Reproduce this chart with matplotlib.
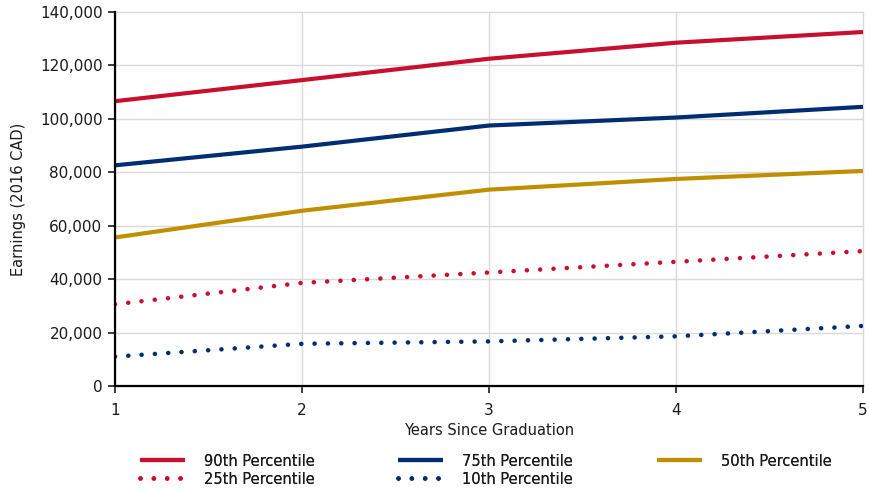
import matplotlib
matplotlib.use("Agg")
import matplotlib.pyplot as plt
from matplotlib.ticker import FuncFormatter

years = [1, 2, 3, 4, 5]
p90 = [106600, 114500, 122500, 128500, 132500]
p75 = [82600, 89600, 97500, 100500, 104500]
p50 = [55600, 65600, 73500, 77500, 80500]
p25 = [30600, 38600, 42500, 46500, 50500]
p10 = [11000, 15800, 16700, 18600, 22500]
labels = ["90th Percentile", "75th Percentile", "50th Percentile",
          "25th Percentile", "10th Percentile"]

RED = "#C8102E"
NAVY = "#002D72"
GOLD = "#BF8F00"

plt.rcParams['font.family'] = ['DejaVu Sans']
FS = 10.5

fig = plt.figure(figsize=(8.69, 4.91), dpi=100)
ax = fig.add_axes([0.1323, 0.2138, 0.9931 - 0.1323, 0.9756 - 0.2138])

lw = 3.0
dots = (0, (0.01, 2.9))
h90, = ax.plot(years, p90, color=RED, lw=lw, label=labels[0], solid_capstyle='butt')
h75, = ax.plot(years, p75, color=NAVY, lw=lw, label=labels[1], solid_capstyle='butt')
h50, = ax.plot(years, p50, color=GOLD, lw=lw, label=labels[2], solid_capstyle='butt')
h25, = ax.plot(years, p25, color=RED, lw=3.3, linestyle=dots, dash_capstyle='round', label=labels[3])
h10, = ax.plot(years, p10, color=NAVY, lw=3.3, linestyle=dots, dash_capstyle='round', label=labels[4])

ax.set_xlim(1, 5)
ax.set_ylim(0, 140000)
ax.set_xticks(years)
ax.set_yticks(range(0, 140001, 20000))
ax.yaxis.set_major_formatter(FuncFormatter(lambda v, p: f"{int(v):,}"))
ax.grid(True, color="#D9D9D9", lw=1.0)
ax.set_axisbelow(True)
for gl in ax.get_xgridlines() + ax.get_ygridlines():
    gl.set_clip_on(False)
for s in ["top", "right"]:
    ax.spines[s].set_visible(False)
for s in ["left", "bottom"]:
    ax.spines[s].set_linewidth(1.6)
    ax.spines[s].set_color("black")
ax.tick_params(axis='both', length=5, width=1.2, labelsize=FS + 0.5, colors="black", pad=4)
ax.tick_params(axis='x', pad=7)
ax.tick_params(colors="#1a1a1a", which='both')
ax.set_xlabel("Years Since Graduation", fontsize=FS, labelpad=4, color="#1a1a1a")
ax.set_ylabel("Earnings (2016 CAD)", fontsize=FS, labelpad=10, color="#1a1a1a")

W, H = 869.0, 491.0
entries = [(h90, labels[0], 140, 461), (h75, labels[1], 398, 461), (h50, labels[2], 657, 461),
           (h25, labels[3], 140, 479), (h10, labels[4], 398, 479)]
for h, lab, px, py in entries:
    leg = fig.legend([h], [lab], loc="center left", bbox_to_anchor=(px / W, 1 - py / H),
                     frameon=False, fontsize=FS, handlelength=3.1, handletextpad=1.3,
                     borderaxespad=0, borderpad=0, labelcolor="#1a1a1a")
    fig.add_artist(leg)

fig.savefig("out.png", dpi=100)
